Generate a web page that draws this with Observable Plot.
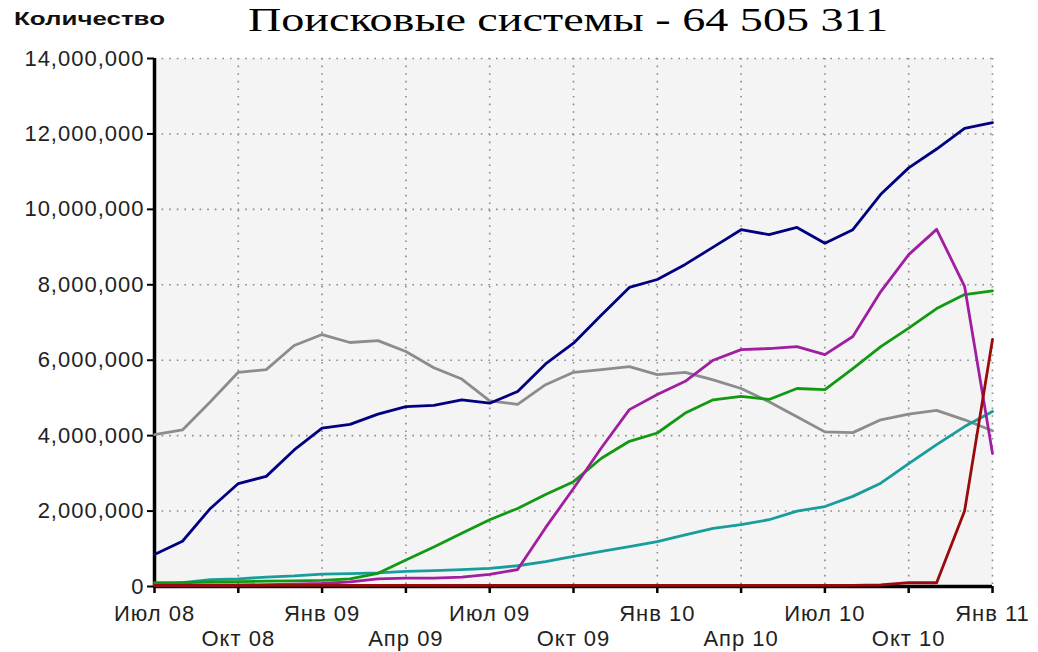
<!DOCTYPE html>
<html>
<head>
<meta charset="utf-8">
<script src="https://cdn.jsdelivr.net/npm/d3@7"></script>
<script src="https://cdn.jsdelivr.net/npm/@observablehq/plot@0.6"></script>
<style>
  html, body { margin: 0; padding: 0; background: #ffffff; }
  #chart { width: 1038px; height: 652px; }
  #chart svg text { letter-spacing: 1px; }
</style>
</head>
<body>
<div id="chart"></div>
<script>
// ---- Data (values in millions) ----
const titleText = "Поисковые системы - 64 505 311";
const yLabelText = "Количество";

const months = [
  "2008-07","2008-08","2008-09","2008-10","2008-11","2008-12",
  "2009-01","2009-02","2009-03","2009-04","2009-05","2009-06",
  "2009-07","2009-08","2009-09","2009-10","2009-11","2009-12",
  "2010-01","2010-02","2010-03","2010-04","2010-05","2010-06",
  "2010-07","2010-08","2010-09","2010-10","2010-11","2010-12",
  "2011-01"
];

const seriesA = [0.85,1.2,2.07,2.73,2.92,3.62,4.2,4.3,4.57,4.77,4.8,4.95,4.86,5.17,5.9,6.45,7.2,7.93,8.14,8.54,9.0,9.46,9.33,9.52,9.1,9.46,10.4,11.1,11.6,12.15,12.3];
const seriesB = [4.03,4.15,4.9,5.68,5.75,6.39,6.68,6.47,6.52,6.23,5.8,5.5,4.92,4.83,5.35,5.68,5.75,5.83,5.62,5.68,5.48,5.25,4.9,4.5,4.1,4.08,4.42,4.57,4.67,4.42,4.13];
const seriesC = [0.1,0.1,0.12,0.13,0.14,0.15,0.16,0.2,0.35,0.7,1.05,1.41,1.77,2.07,2.44,2.78,3.4,3.85,4.07,4.6,4.95,5.04,4.96,5.25,5.22,5.78,6.36,6.85,7.37,7.74,7.84];
const seriesD = [0.03,0.03,0.04,0.04,0.05,0.06,0.08,0.12,0.2,0.22,0.22,0.25,0.32,0.45,1.56,2.6,3.68,4.69,5.09,5.44,6.0,6.28,6.31,6.36,6.15,6.63,7.82,8.8,9.47,7.96,3.53];
const seriesE = [0.05,0.1,0.18,0.2,0.25,0.28,0.33,0.34,0.36,0.4,0.42,0.45,0.48,0.55,0.66,0.8,0.93,1.06,1.19,1.37,1.54,1.64,1.77,2.0,2.12,2.39,2.74,3.26,3.76,4.24,4.64];
const seriesF = [0.03,0.03,0.03,0.03,0.03,0.03,0.03,0.03,0.03,0.03,0.03,0.03,0.03,0.03,0.03,0.03,0.03,0.03,0.03,0.03,0.03,0.03,0.03,0.03,0.03,0.03,0.04,0.1,0.1,2.0,6.55];

// draw order: first is drawn at the bottom
const seriesNames = ["s-gray","s-navy","s-teal","s-green","s-magenta","s-red"];
const seriesColors = ["#8c8c8c","#000080","#189c9c","#119911","#a01ea0","#9a0a0a"];
const seriesValues = [seriesB, seriesA, seriesE, seriesC, seriesD, seriesF];

const xTicksRow1 = [0,6,12,18,24,30];
const xLabelsRow1 = ["Июл 08","Янв 09","Июл 09","Янв 10","Июл 10","Янв 11"];
const xTicksRow2 = [3,9,15,21,27];
const xLabelsRow2 = ["Окт 08","Апр 09","Окт 09","Апр 10","Окт 10"];
const xGridTicks = [3,6,9,12,15,18,21,24,27,30];

const yTicks = [0,2,4,6,8,10,12,14];
const yTickLabels = ["0","2,000,000","4,000,000","6,000,000","8,000,000","10,000,000","12,000,000","14,000,000"];

// ---- Build table ----
const rows = [];
seriesNames.forEach((name, s) => {
  seriesValues[s].forEach((v, i) => rows.push({series: name, month: months[i], i, v}));
});

const chart = Plot.plot({
  width: 1038,
  height: 652,
  marginLeft: 154,
  marginRight: 46,
  marginTop: 58,
  marginBottom: 66,
  style: {
    fontFamily: "'Liberation Sans', Arial, sans-serif",
    fontSize: "22px",
    color: "#222",
    background: "#ffffff",
    overflow: "visible"
  },
  x: {domain: [0, 30]},
  y: {domain: [0, 14]},
  color: {type: "ordinal", domain: seriesNames, range: seriesColors},
  marks: [
    Plot.frame({fill: "#f4f4f4", stroke: null}),
    Plot.gridY(yTicks.slice(1), {stroke: "#8a8a8a", strokeOpacity: 1, strokeWidth: 1.6, strokeDasharray: "1.6,6"}),
    Plot.gridX(xGridTicks, {stroke: "#8a8a8a", strokeOpacity: 1, strokeWidth: 1.6, strokeDasharray: "1.6,6"}),
    Plot.axisY(yTicks, {
      tickSize: 7, tickPadding: 3, strokeWidth: 2, stroke: "#000",
      tickFormat: d => yTickLabels[yTicks.indexOf(d)], label: null
    }),
    Plot.axisX(xTicksRow1, {
      tickSize: 7, tickPadding: 12, strokeWidth: 2.5, stroke: "#000",
      tickFormat: d => xLabelsRow1[xTicksRow1.indexOf(d)], label: null
    }),
    Plot.axisX(xTicksRow2, {
      tickSize: 7, tickPadding: 37, strokeWidth: 2.5, stroke: "#000",
      tickFormat: d => xLabelsRow2[xTicksRow2.indexOf(d)], label: null
    }),
    Plot.ruleX([0], {stroke: "#000", strokeWidth: 3.5}),
    Plot.ruleY([0], {stroke: "#000", strokeWidth: 3.5}),
    Plot.line(rows, {x: "i", y: "v", z: "series", stroke: "series", strokeWidth: 2.8, curve: "linear"})
  ]
});

document.getElementById("chart").appendChild(chart);

const svg = d3.select(chart);
svg.append("text")
  .attr("x", 248).attr("y", 31)
  .attr("text-anchor", "start")
  .attr("font-family", "'Liberation Serif', 'DejaVu Serif', serif")
  .attr("font-size", 33)
  .attr("fill", "#000")
  .style("letter-spacing", "0px")
  .attr("textLength", 640)
  .attr("lengthAdjust", "spacingAndGlyphs")
  .text(titleText);

svg.append("text")
  .attr("x", 14).attr("y", 25)
  .attr("text-anchor", "start")
  .attr("font-family", "'Liberation Sans', Arial, sans-serif")
  .attr("font-size", 18)
  .attr("font-weight", "bold")
  .attr("fill", "#111")
  .style("letter-spacing", "0px")
  .attr("textLength", 151)
  .attr("lengthAdjust", "spacingAndGlyphs")
  .text(yLabelText);
</script>
</body>
</html>
